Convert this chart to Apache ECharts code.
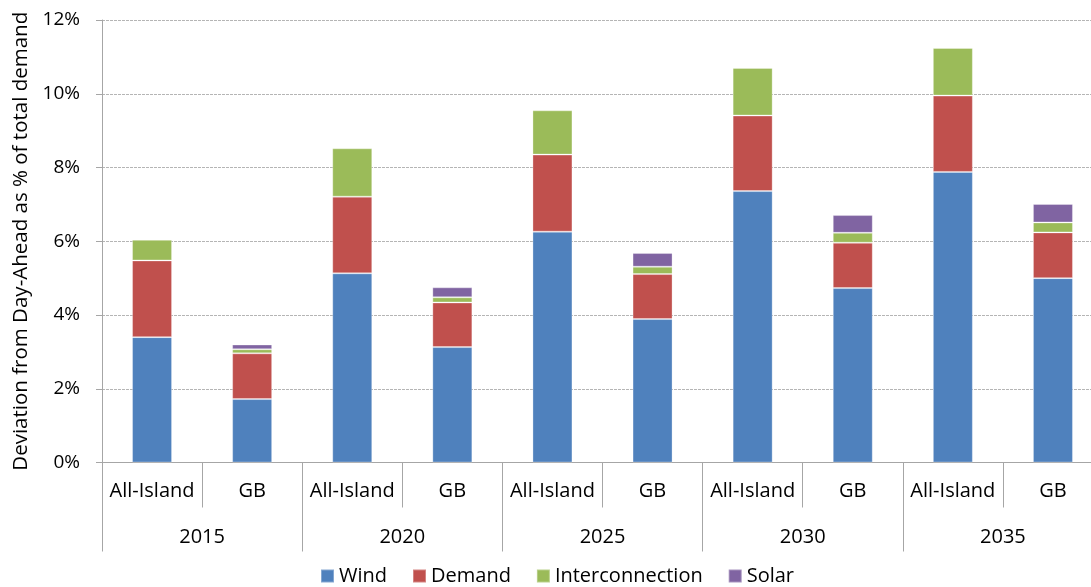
<!DOCTYPE html>
<html>
<head>
<meta charset="utf-8">
<script src="https://cdn.jsdelivr.net/npm/echarts@6/dist/echarts.min.js"></script>
<style>
html,body{margin:0;padding:0;background:#fff;overflow:hidden;width:1091px;height:587px;}
#c{width:1103px;height:587px;}
</style>
</head>
<body>
<div id="c"></div>
<script>
var regions = ['All-Island','GB','All-Island','GB','All-Island','GB','All-Island','GB','All-Island','GB'];
var years = ['2015','2020','2025','2030','2035'];
var wind = [3.40, 1.72, 5.13, 3.13, 6.26, 3.89, 7.36, 4.73, 7.88, 5.00];
var demand = [2.08, 1.24, 2.08, 1.21, 2.09, 1.22, 2.05, 1.23, 2.07, 1.24];
var interconnection = [0.56, 0.11, 1.31, 0.14, 1.20, 0.20, 1.29, 0.27, 1.29, 0.27];
var solar = [null, 0.13, null, 0.27, null, 0.37, null, 0.48, null, 0.50];
var yTicks = [0, 2, 4, 6, 8, 10, 12];

var FONT = 'Open Sans';
var chart = echarts.init(document.getElementById('c'), null, {renderer: 'canvas'});
function mk(name, data, color) {
  return {
    name: name, type: 'bar', stack: 'total', data: data, barWidth: 40,
    xAxisIndex: 0, yAxisIndex: 0,
    itemStyle: {color: color, borderColor: 'rgba(255,255,255,0.3)', borderWidth: 1},
    emphasis: {disabled: true}
  };
}
chart.setOption({
  animation: false,
  textStyle: {fontFamily: FONT},
  grid: {left: 102, right: 0, top: 20, height: 442.5, containLabel: false},
  legend: {
    bottom: -4, left: 315, itemWidth: 13, itemHeight: 13, itemGap: 25,
    icon: 'rect',
    textStyle: {fontFamily: FONT, fontSize: 20, color: '#000'},
    data: ['Wind','Demand','Interconnection','Solar']
  },
  xAxis: [{
    type: 'category', data: regions, position: 'bottom',
    axisLine: {lineStyle: {color: '#a6a6a6', width: 1}},
    axisTick: {show: true, interval: 0, length: 45, lineStyle: {color: '#a6a6a6'}},
    axisLabel: {interval: 0, margin: 19, fontSize: 20, color: '#000', fontFamily: FONT}
  }, {
    type: 'category', data: years, position: 'bottom',
    axisLine: {show: false},
    axisTick: {show: true, interval: 0, length: 89, lineStyle: {color: '#a6a6a6'}},
    axisLabel: {interval: 0, margin: 65, fontSize: 20, color: '#000', fontFamily: FONT}
  }],
  yAxis: {
    type: 'value', min: 0, max: 12, interval: 2,
    name: 'Deviation from Day-Ahead as % of total demand',
    nameLocation: 'middle', nameGap: 70, nameRotate: 90,
    nameTextStyle: {fontSize: 20.5, color: '#000', fontFamily: FONT},
    axisLine: {show: true, lineStyle: {color: '#a6a6a6'}},
    axisTick: {show: true, length: 6, lineStyle: {color: '#a6a6a6'}},
    axisLabel: {margin: 22, fontSize: 19, color: '#000', fontFamily: FONT,
      formatter: function(v){ return yTicks.indexOf(v) >= 0 ? v + '%' : ''; }},
    splitLine: {show: true, lineStyle: {color: '#b5b5b5', type: [3,1], width: 1}}
  },
  series: [
    mk('Wind', wind, '#4F81BD'),
    mk('Demand', demand, '#C0504D'),
    mk('Interconnection', interconnection, '#9BBB59'),
    mk('Solar', solar, '#8064A2')
  ]
});
</script>
</body>
</html>
